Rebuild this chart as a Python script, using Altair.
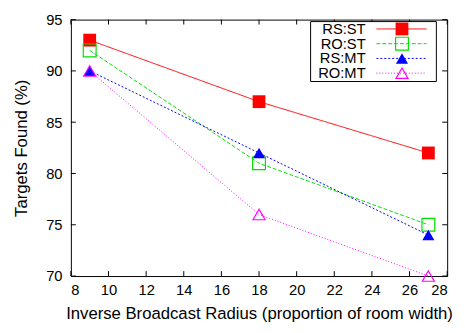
import altair as alt
import pandas as pd

# ---- data ----
x_vals = [9, 18, 27]
series_names = ["RS:ST", "RO:ST", "RS:MT", "RO:MT"]
rs_st = [93, 87, 82]
ro_st = [92, 81, 75]
rs_mt = [90, 82, 74]
ro_mt = [90, 76, 70]
series_values = [rs_st, ro_st, rs_mt, ro_mt]
x_ticks = [8, 10, 12, 14, 16, 18, 20, 22, 24, 26, 28]
y_ticks = [70, 75, 80, 85, 90, 95]

# ---- styles ----
W, H = 383, 261
FONT = "Liberation Sans"
colors = ["#ff0000", "#00e000", "#0000ff", "#ff00ff"]
dashes = [[1, 0], [4, 2], [2, 2], [1, 2]]
shapes = ["square", "square", "triangle-up", "triangle-up"]
filled = [True, False, True, False]
sizes = [170, 170, 150, 150]

xscale = alt.Scale(domain=[8, 28], nice=False, zero=False)
yscale = alt.Scale(domain=[70, 95], nice=False, zero=False)
xaxis = alt.Axis(values=x_ticks, ticks=False, domain=False, grid=False,
                 labelFontSize=15, labelFont=FONT, labelColor="black",
                 labelPadding=7, title="Inverse Broadcast Radius (proportion of room width)",
                 titleFontSize=17, titleFont=FONT, titleFontWeight="normal",
                 titleColor="black", titlePadding=8)
yaxis = alt.Axis(values=y_ticks, ticks=False, domain=False, grid=False,
                 labelFontSize=15, labelFont=FONT, labelColor="black",
                 labelPadding=9, title="Targets Found (%)",
                 titleFontSize=17, titleFont=FONT, titleFontWeight="normal",
                 titleColor="black", titlePadding=15)


def X(field="x"):
    return alt.X(f"{field}:Q", scale=xscale, axis=xaxis)


def Y(field="y"):
    return alt.Y(f"{field}:Q", scale=yscale, axis=yaxis)


layers = []

# inward tick marks on all four sides
xt = pd.DataFrame({"x": x_ticks})
yt = pd.DataFrame({"y": y_ticks})
TL = 5
layers.append(alt.Chart(xt).mark_rule(color="black", strokeWidth=1).encode(
    x=X(), y=alt.value(H), y2=alt.value(H - TL)))
layers.append(alt.Chart(xt).mark_rule(color="black", strokeWidth=1).encode(
    x=X(), y=alt.value(0), y2=alt.value(TL)))
layers.append(alt.Chart(yt).mark_rule(color="black", strokeWidth=1).encode(
    y=Y(), x=alt.value(0), x2=alt.value(TL)))
layers.append(alt.Chart(yt).mark_rule(color="black", strokeWidth=1).encode(
    y=Y(), x=alt.value(W), x2=alt.value(W - TL)))

# series
for name, vals, c, d, s, f, sz in zip(series_names, series_values, colors,
                                       dashes, shapes, filled, sizes):
    df = pd.DataFrame({"x": x_vals, "y": vals, "series": name})
    base = alt.Chart(df)
    layers.append(base.mark_line(color=c, strokeWidth=1, strokeDash=d).encode(
        x=X(), y=Y()))
    if f:
        pt = base.mark_point(shape=s, filled=True, fill=c, color=c, opacity=1,
                             size=sz, strokeWidth=0)
    else:
        pt = base.mark_point(shape=s, filled=False, color=c, opacity=1,
                             size=sz, strokeWidth=1.2)
    layers.append(pt.encode(x=X(), y=Y()))

# legend box (drawn manually to reproduce line + marker samples)
one = pd.DataFrame({"k": [0]})
layers.append(alt.Chart(one).mark_rect(fill="white", stroke="black",
                                       strokeWidth=1).encode(
    x=alt.value(244), x2=alt.value(372), y=alt.value(2), y2=alt.value(63)))
rows = [9.5, 24.5, 39.5, 54.5]
for name, c, d, s, f, sz, ry in zip(series_names, colors, dashes, shapes,
                                    filled, sizes, rows):
    ld = pd.DataFrame({"name": [name]})
    lb = alt.Chart(ld)
    layers.append(lb.mark_text(align="right", baseline="middle", fontSize=15,
                               font=FONT, color="black").encode(
        text="name:N", x=alt.value(300), y=alt.value(ry)))
    layers.append(lb.mark_rule(color=c, strokeWidth=1, strokeDash=d).encode(
        x=alt.value(311), x2=alt.value(362), y=alt.value(ry)))
    if f:
        lp = lb.mark_point(shape=s, filled=True, fill=c, color=c, opacity=1,
                           size=sz, strokeWidth=0)
    else:
        lp = lb.mark_point(shape=s, filled=False, color=c, opacity=1,
                           size=sz, strokeWidth=1.2)
    layers.append(lp.encode(x=alt.value(337), y=alt.value(ry)))

chart = alt.layer(*layers).properties(
    width=W, height=H,
    autosize=alt.AutoSizeParams(type="none"),
    padding={"left": 64, "top": 9, "right": 10, "bottom": 47},
    background="white",
).configure_view(stroke="black", strokeWidth=1)

chart.save("out.html", embed_options={"renderer": "svg", "actions": False})
